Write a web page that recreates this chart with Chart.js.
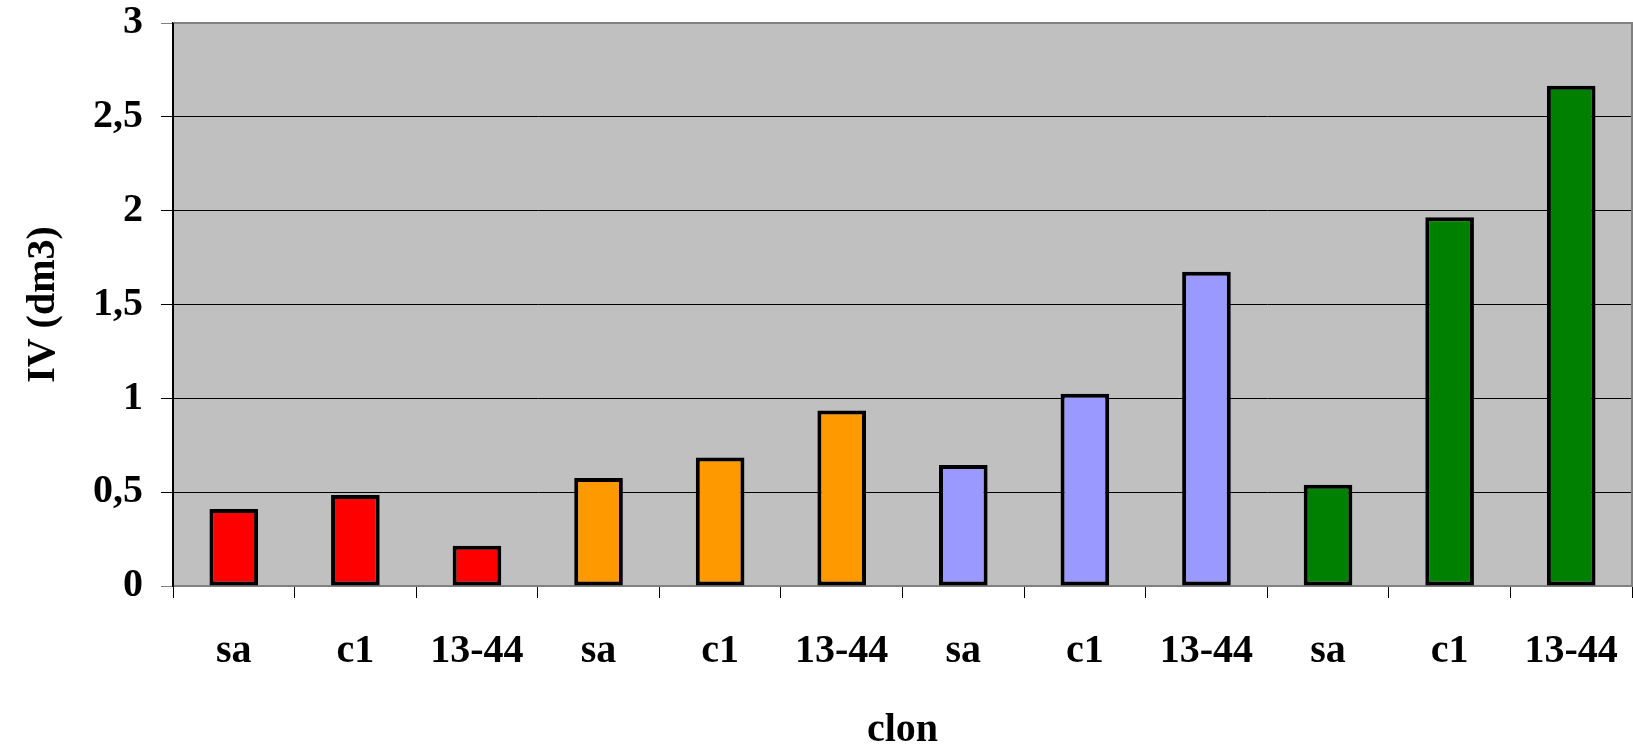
<!DOCTYPE html>
<html>
<head>
<meta charset="utf-8">
<script src="https://cdn.jsdelivr.net/npm/chart.js@4"></script>
<style>
html,body{margin:0;padding:0;background:#fff;}
#wrap{width:1633px;height:744px;}
</style>
</head>
<body>
<div id="wrap"><canvas id="c" width="1633" height="744"></canvas></div>
<script>
const categories = ["sa","c1","13-44","sa","c1","13-44","sa","c1","13-44","sa","c1","13-44"];
const values = [0.41, 0.485, 0.215, 0.575, 0.685, 0.935, 0.645, 1.025, 1.675, 0.54, 1.965, 2.665];
const barColors = ["#FF0000","#FF0000","#FF0000","#FF9900","#FF9900","#FF9900","#9999FF","#9999FF","#9999FF","#008000","#008000","#008000"];
const yTicks = [0, 0.5, 1, 1.5, 2, 2.5, 3];
const yTitle = "IV (dm3)";
const xTitle = "clon";

const FONT = "'Liberation Serif', 'Times New Roman', serif";

const bgPlugin = {
  id: 'plotBg',
  beforeDraw(chart) {
    const {ctx, chartArea: a} = chart;
    ctx.save();
    ctx.fillStyle = '#C0C0C0';
    ctx.fillRect(a.left, a.top, a.right - a.left, a.bottom - a.top);
    ctx.restore();
  },
  afterDraw(chart) {
    const {ctx, chartArea: a} = chart;
    ctx.save();
    ctx.strokeStyle = '#808080';
    ctx.lineWidth = 2;
    ctx.beginPath();
    ctx.moveTo(a.left, a.top);
    ctx.lineTo(a.right, a.top);
    ctx.lineTo(a.right, a.bottom);
    ctx.stroke();
    ctx.strokeStyle = '#000';
    ctx.beginPath();
    ctx.moveTo(a.left, a.top);
    ctx.lineTo(a.left, a.bottom);
    ctx.stroke();
    ctx.restore();
  }
};

new Chart(document.getElementById('c'), {
  type: 'bar',
  data: {
    labels: categories,
    datasets: [{
      data: values,
      backgroundColor: barColors,
      borderColor: '#000',
      borderWidth: 4,
      borderSkipped: false,
      barPercentage: 0.4,
      categoryPercentage: 1.0
    }]
  },
  options: {
    responsive: false,
    animation: false,
    devicePixelRatio: 1,
    layout: { padding: { left: 0, right: 1, top: 23, bottom: 0 } },
    plugins: { legend: { display: false }, tooltip: { enabled: false } },
    scales: {
      x: {
        grid: { offset: true, drawOnChartArea: false, color: '#000', tickLength: 12, lineWidth: 1 },
        border: { color: '#808080', width: 2 },
        ticks: { color: '#000', font: { family: FONT, size: 40, weight: 'bold' }, padding: 30, maxRotation: 0, autoSkip: false },
        title: { display: true, text: xTitle, color: '#000', font: { family: FONT, size: 40, weight: 'bold', lineHeight: 1 }, padding: { top: 0, bottom: -7 } },
        afterFit(scale) { scale.height = 158; scale.paddingLeft = 0; scale.paddingRight = 0; }
      },
      y: {
        min: 0, max: 3,
        afterBuildTicks(scale) { scale.ticks = yTicks.map(v => ({ value: v })); },
        grid: {
          color: ctx => (ctx.tick && (ctx.tick.value === 0 || ctx.tick.value === 3)) ? '#808080' : '#000',
          tickLength: 12, lineWidth: 1
        },
        border: { color: '#000', width: 2 },
        ticks: {
          color: '#000',
          font: { family: FONT, size: 40, weight: 'bold' },
          padding: 18,
          callback: v => String(v).replace('.', ',')
        },
        title: { display: true, text: yTitle, color: '#000', font: { family: FONT, size: 40, weight: 'bold', lineHeight: 1 }, padding: { top: 24, bottom: 0 } },
        afterFit(scale) { scale.width = 173; scale.paddingTop = 0; scale.paddingBottom = 0; }
      }
    }
  },
  plugins: [bgPlugin]
});
</script>
</body>
</html>
